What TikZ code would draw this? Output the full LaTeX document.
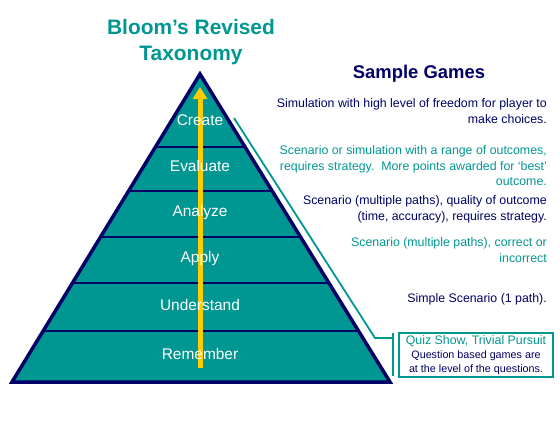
\documentclass[tikz,border=0pt]{standalone}
\usepackage{fontspec}
\setmainfont{Liberation Sans}
\usepackage{tikz}
\usetikzlibrary{calc,arrows.meta}
\definecolor{bloomteal}{RGB}{0,150,145}
\definecolor{bloomnavy}{RGB}{0,0,102}
\definecolor{bloomgold}{RGB}{255,204,0}
\newcommand\quizsmall{\color{bloomnavy}\fontsize{10.8}{12.2}\selectfont}

\begin{document}
\begin{tikzpicture}[x=1bp,y=-1bp,
    level/.style={text=white,font=\fontsize{15.5}{18}\selectfont},
    game/.style={anchor=east,inner sep=0pt,align=right,font=\fontsize{12.4}{15.5}\selectfont}]
  \useasboundingbox (0,0) rectangle (560,420);
  \node[text=bloomteal,align=center,font=\bfseries\fontsize{21}{26}\selectfont] (title) at (191,42) {Bloom’s Revised\\Taxonomy};
  \node[text=bloomnavy,font=\bfseries\fontsize{18.5}{22}\selectfont] (games) at (419,74) {Sample Games};
  % pyramid
  \coordinate (apex) at (200,74);
  \coordinate (bl) at (12,382);
  \coordinate (br) at (390,382);
  \fill[bloomteal] (apex) -- (bl) -- (br) -- cycle;
  \foreach \t in {.237,.380,.529,.679,.834}
    \draw[bloomnavy,line width=2bp] ($(apex)!\t!(bl)$) -- ($(apex)!\t!(br)$);
  \draw[bloomnavy,line width=3.5bp] (apex) -- (bl) -- (br) -- cycle;
  \coordinate (foot) at (200,368);
  \coordinate (tip) at (200,87);
  \draw[bloomgold,line width=5bp,-{Triangle[length=12bp,width=14bp]}] (foot) -- (tip);
  \foreach \y/\name in {120/Create,166/Evaluate,212/Analyze,258/Apply,305/Understand,354/Remember}
    \node[level] (\name) at (200,\y) {\name};
  % sample games
  \node[game,text=bloomnavy] (sim) at (547,111) {Simulation with high level of freedom for player to\\make choices.};
  \node[game,text=bloomteal] (range) at (547,166) {Scenario or simulation with a range of outcomes,\\requires strategy.\ \ More points awarded for ‘best’\\outcome.};
  \node[game,text=bloomnavy] (quality) at (547,209.5) {Scenario (multiple paths), quality of outcome\\(time, accuracy), requires strategy.};
  \node[game,text=bloomteal] (correct) at (547,250) {Scenario (multiple paths), correct or\\incorrect};
  \node[game,text=bloomnavy] (simple) at (547,299) {Simple Scenario (1 path).};
  \node[draw=bloomteal,line width=2bp,minimum width=154bp,minimum height=44bp,inner sep=0pt,align=center,
        font=\fontsize{12.4}{14}\selectfont,text=bloomteal] (quiz) at (476,355)
    {Quiz Show, Trivial Pursuit\\[0.5bp]
     \quizsmall Question based games are\\\quizsmall at the level of the questions.};
  % bracket
  \coordinate (b1) at (234,118);
  \coordinate (b2) at (375,338);
  \coordinate (b3) at (393,338);
  \coordinate (b4) at (393,333);
  \coordinate (b5) at (393,376);
  \draw[bloomteal,line width=1.8bp] (b1) -- (b2) -- (b3);
  \draw[bloomteal,line width=1.8bp] (b4) -- (b5);
\end{tikzpicture}
\end{document}
